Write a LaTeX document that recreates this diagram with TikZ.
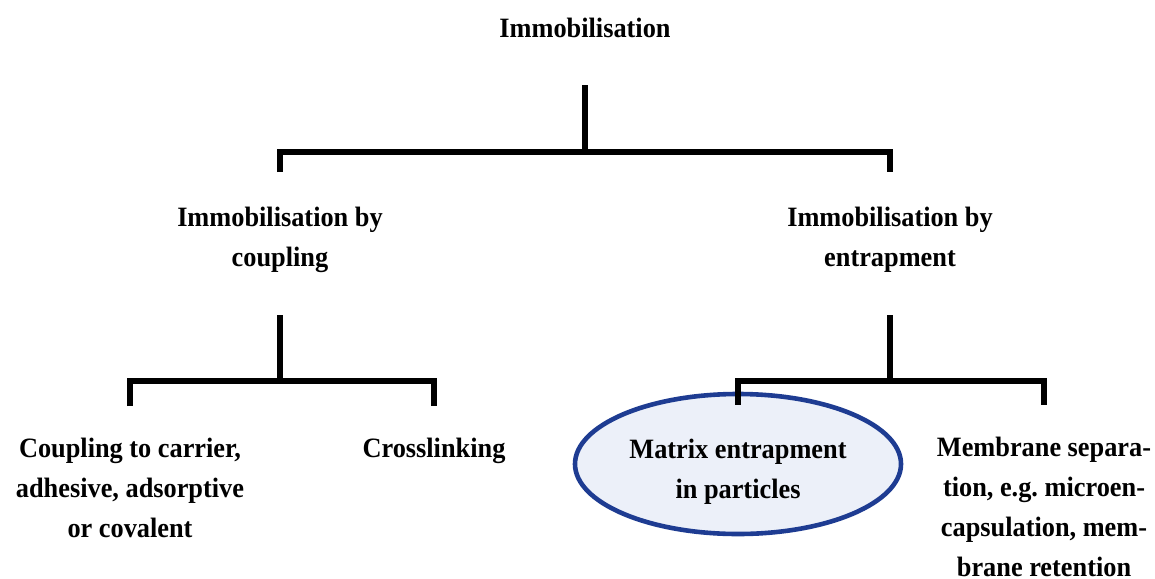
\documentclass[tikz,border=0pt]{standalone}
\usepackage{fontspec}
\setmainfont[FakeStretch=0.94]{Liberation Serif}
\usetikzlibrary{positioning,shapes.geometric}
\definecolor{matblue}{HTML}{1E3C92}
\definecolor{matfill}{HTML}{ECF0F9}
\frenchspacing

\begin{document}
\begin{tikzpicture}[x=0.5pt,y=-0.5pt,every node/.style={font=\fontsize{14}{20}\selectfont\bfseries, align=center, inner sep=0pt},link/.style={line width=2.8pt},bar/.style={line width=3.4pt},leaf/.style={anchor=north}]
\useasboundingbox (0,0) rectangle (1155,578);
\node(root) at (585,28) {Immobilisation};
\node(cpl) at (280,240) {Immobilisation by\\coupling};
\node(ent) at (890,240) {Immobilisation by\\entrapment};
\node[leaf](carrier) at (130,438) {Coupling to carrier,\\adhesive, adsorptive\\or covalent};
\node[leaf](cross) at (434,438) {Crosslinking};
\node[ellipse,draw=matblue,fill=matfill,line width=2.3pt,minimum width=163pt,minimum height=70pt](matrix) at (738,464) {\rule{0pt}{17pt}Matrix entrapment\\in particles};
\node[leaf](membrane) at (1044,437) {Membrane separa-\\tion, e.g. microen-\\capsulation, mem-\\brane retention};
% top level
\draw[link] (root) ++(0,57) -- ++(0,67) coordinate (top);
\draw[bar] ([yshift=34pt]cpl.center) |- (top) -| ([yshift=34pt]ent.center);
% second level
\draw[link] (cpl) ++(0,75) -- ++(0,66) coordinate (cplfork);
\draw[link] ([yshift=16pt]carrier.north) |- (cplfork) -| ([yshift=16pt]cross.north);
\draw[link] (ent) ++(0,75) -- ++(0,66) coordinate (entfork);
\draw[link] ([yshift=-6.5pt]matrix.north) |- (entfork) -| ([yshift=16pt]membrane.north);
\end{tikzpicture}
\end{document}
